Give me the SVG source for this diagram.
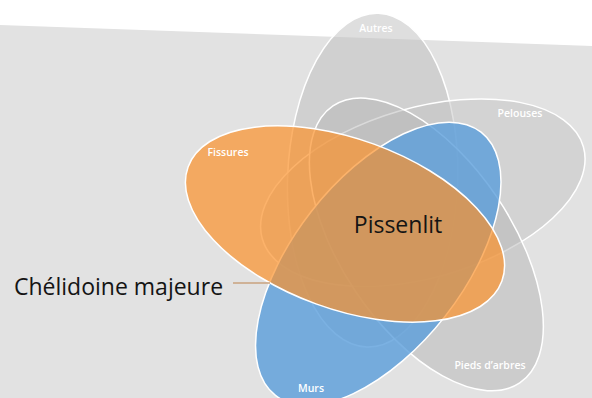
<svg xmlns="http://www.w3.org/2000/svg" width="592" height="398" viewBox="0 0 592 398">
  <style>
    .gray { fill: #bebebe; fill-opacity: 0.5; stroke: #ffffff; stroke-width: 1.5; }
    .blue { fill: #5a9ddb; fill-opacity: 0.8; stroke: #ffffff; stroke-width: 1.5; }
    .orange { fill: #fb922b; fill-opacity: 0.7; stroke: #ffffff; stroke-width: 1.5; }
    .lbl { font-family: "Open Sans", "Noto Sans", sans-serif; font-size: 10.5px; font-weight: 600; fill: #ffffff; text-anchor: middle; }
    .big { font-family: "Open Sans", "Noto Sans", sans-serif; font-size: 23px; fill: #141414; }
    .conn { stroke: #c8a27e; stroke-width: 1.5; fill: none; }
  </style>
  <defs>
    <ellipse id="shape" cx="345" cy="224" rx="167" ry="85" transform="rotate(20 345 224)"/>
  </defs>
  <polygon points="0,25 592,46 592,398 0,398" fill="#e2e2e2"/>
  <g id="autres">
    <g transform="rotate(72 389 221)"><use href="#shape" class="gray"/></g>
    <text class="lbl" x="376" y="32">Autres</text>
  </g>
  <g id="pelouses">
    <g transform="rotate(144 389 221)"><use href="#shape" class="gray" style="fill:#c4c4c4"/></g>
    <text class="lbl" x="520" y="117">Pelouses</text>
  </g>
  <g id="pieds-arbres">
    <g transform="rotate(216 389 221)"><use href="#shape" class="gray" style="fill:#b6b6b6"/></g>
    <text class="lbl" x="490" y="369">Pieds d’arbres</text>
  </g>
  <g id="murs">
    <g transform="rotate(288 389 221)"><use href="#shape" class="blue"/></g>
    <text class="lbl" x="311" y="392">Murs</text>
  </g>
  <g id="fissures">
    <use href="#shape" class="orange"/>
    <text class="lbl" x="228" y="156">Fissures</text>
  </g>
  <g id="connectors">
    <line class="conn" x1="233" y1="283" x2="270" y2="283"/>
  </g>
  <g id="pissenlit">
    <text class="big" x="398" y="233" text-anchor="middle">Pissenlit</text>
  </g>
  <g id="chelidoine">
    <text class="big" x="14" y="295">Chélidoine majeure</text>
  </g>
</svg>
